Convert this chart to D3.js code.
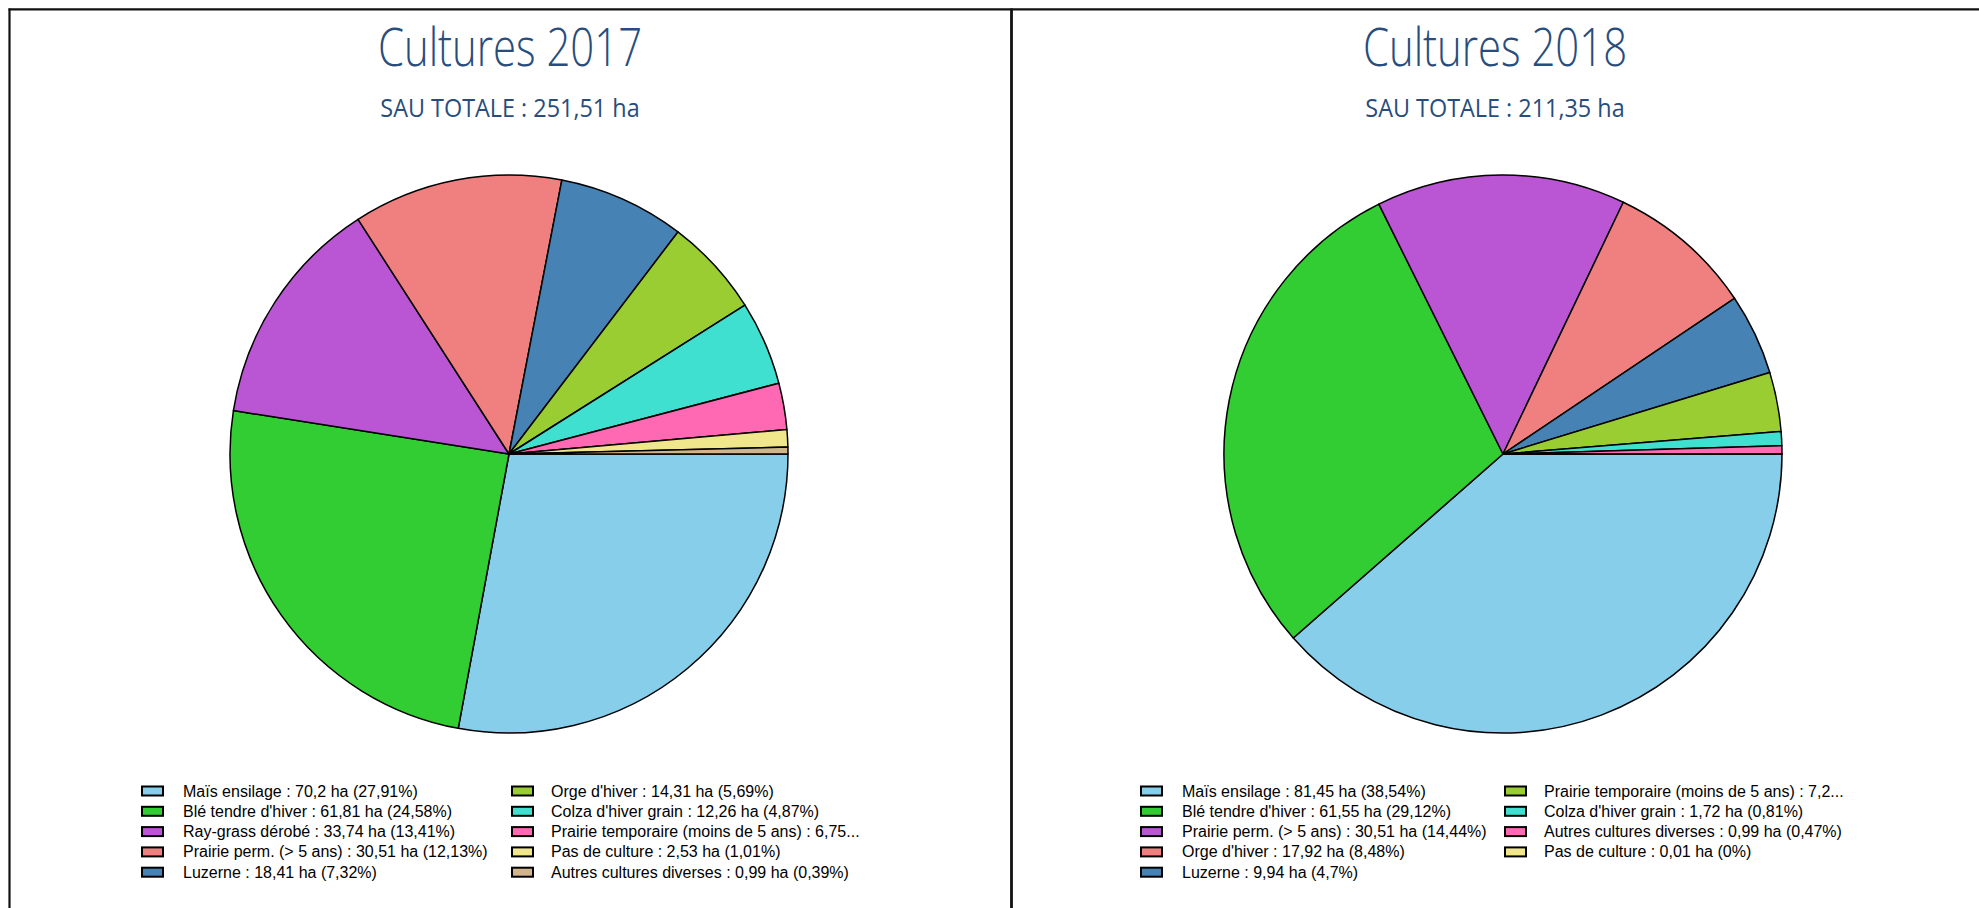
<!DOCTYPE html>
<html lang="fr">
<head>
  <meta charset="UTF-8">
  <title>Cultures 2017 - 2018</title>
  <script src="https://d3js.org/d3.v7.min.js"></script>
  <style>
    body { margin: 0; background: #fff; }
    svg { display: block; }
  </style>
</head>
<body>
<script>
  const width = 1979, height = 908;

  // same colour order for both years, by slice index
  const palette = ['#87ceeb', '#32cd32', '#ba55d3', '#f08080', '#4682b4',
                   '#9acd32', '#40e0d0', '#ff69b4', '#f0e68c', '#d2b48c'];

  const crops2017 = ["Maïs ensilage", "Blé tendre d'hiver", "Ray-grass dérobé", "Prairie perm. (> 5 ans)",
    "Luzerne", "Orge d'hiver", "Colza d'hiver grain", "Prairie temporaire (moins de 5 ans)",
    "Pas de culture", "Autres cultures diverses"];
  const area2017 = [70.2, 61.81, 33.74, 30.51, 18.41, 14.31, 12.26, 6.75, 2.53, 0.99];
  const legend2017 = [
    "Maïs ensilage : 70,2 ha (27,91%)",
    "Blé tendre d'hiver : 61,81 ha (24,58%)",
    "Ray-grass dérobé : 33,74 ha (13,41%)",
    "Prairie perm. (> 5 ans) : 30,51 ha (12,13%)",
    "Luzerne : 18,41 ha (7,32%)",
    "Orge d'hiver : 14,31 ha (5,69%)",
    "Colza d'hiver grain : 12,26 ha (4,87%)",
    "Prairie temporaire (moins de 5 ans) : 6,75...",
    "Pas de culture : 2,53 ha (1,01%)",
    "Autres cultures diverses : 0,99 ha (0,39%)"
  ];

  const crops2018 = ["Maïs ensilage", "Blé tendre d'hiver", "Prairie perm. (> 5 ans)", "Orge d'hiver",
    "Luzerne", "Prairie temporaire (moins de 5 ans)", "Colza d'hiver grain",
    "Autres cultures diverses", "Pas de culture"];
  const area2018 = [81.45, 61.55, 30.51, 17.92, 9.94, 7.26, 1.72, 0.99, 0.01];
  const legend2018 = [
    "Maïs ensilage : 81,45 ha (38,54%)",
    "Blé tendre d'hiver : 61,55 ha (29,12%)",
    "Prairie perm. (> 5 ans) : 30,51 ha (14,44%)",
    "Orge d'hiver : 17,92 ha (8,48%)",
    "Luzerne : 9,94 ha (4,7%)",
    "Prairie temporaire (moins de 5 ans) : 7,2...",
    "Colza d'hiver grain : 1,72 ha (0,81%)",
    "Autres cultures diverses : 0,99 ha (0,47%)",
    "Pas de culture : 0,01 ha (0%)"
  ];

  const titles = ["Cultures 2017", "Cultures 2018"];
  const subtitles = ["SAU TOTALE : 251,51 ha", "SAU TOTALE : 211,35 ha"];

  const svg = d3.select('body').append('svg')
    .attr('width', width).attr('height', height);

  svg.append('rect').attr('width', width).attr('height', height).attr('fill', '#fff');

  // panel frame
  const frame = svg.append('g').attr('stroke', '#111').attr('fill', 'none');
  frame.append('line').attr('x1', 8.5).attr('x2', width).attr('y1', 9.3).attr('y2', 9.3).attr('stroke-width', 2.2);
  frame.append('line').attr('x1', 9.5).attr('x2', 9.5).attr('y1', 8.5).attr('y2', height).attr('stroke-width', 2.2);
  frame.append('line').attr('x1', 1011.5).attr('x2', 1011.5).attr('y1', 8.5).attr('y2', height).attr('stroke-width', 2.8);

  const panels = [
    {title: titles[0], sub: subtitles[0], names: crops2017, values: area2017, labels: legend2017,
     tx: 510, cx: 509, cols: [[142, 183], [512, 551]]},
    {title: titles[1], sub: subtitles[1], names: crops2018, values: area2018, labels: legend2018,
     tx: 1495, cx: 1503, cols: [[1141, 1182], [1505, 1544]]}
  ];

  const radius = 279, cy = 454;

  const pie = d3.pie().sort(null).value(d => d)
    .startAngle(Math.PI / 2).endAngle(Math.PI / 2 + 2 * Math.PI);
  const arc = d3.arc().innerRadius(0).outerRadius(radius);

  // condensed look: open sans squeezed horizontally
  function heading(g, x, y, size, sx, weight, txt) {
    g.append('text')
      .attr('transform', `translate(${x},${y}) scale(${sx},1)`)
      .attr('text-anchor', 'middle')
      .attr('font-family', 'Open Sans, sans-serif')
      .attr('font-weight', weight)
      .attr('font-size', size)
      .attr('fill', '#284d7d')
      .text(txt);
  }

  panels.forEach(p => {
    const g = svg.append('g');

    heading(g, p.tx, 66, 53, 0.79, 300, p.title);
    heading(g, p.tx, 117, 26, 0.9, 400, p.sub);

    const color = d3.scaleOrdinal().domain(p.names).range(palette);

    g.append('g')
      .attr('transform', `translate(${p.cx},${cy})`)
      .selectAll('path')
      .data(pie(p.values))
      .join('path')
      .attr('d', arc)
      .attr('fill', (d, i) => color(p.names[i]))
      .attr('stroke', '#000')
      .attr('stroke-width', 1.5)
      .attr('stroke-linejoin', 'round');

    // legend: 5 rows per column
    const item = g.append('g').selectAll('g')
      .data(p.labels)
      .join('g')
      .attr('transform', (d, i) => `translate(0,${791 + 20.3 * (i % 5)})`);

    item.append('rect')
      .attr('x', (d, i) => p.cols[Math.floor(i / 5)][0])
      .attr('y', -4.5)
      .attr('width', 21).attr('height', 9)
      .attr('fill', (d, i) => color(p.names[i]))
      .attr('stroke', '#000')
      .attr('stroke-width', 2);

    item.append('text')
      .attr('x', (d, i) => p.cols[Math.floor(i / 5)][1])
      .attr('y', 5.5)
      .attr('font-family', 'Liberation Sans, Arial, sans-serif')
      .attr('font-size', 16)
      .attr('fill', '#000')
      .text(d => d);
  });
</script>
</body>
</html>
